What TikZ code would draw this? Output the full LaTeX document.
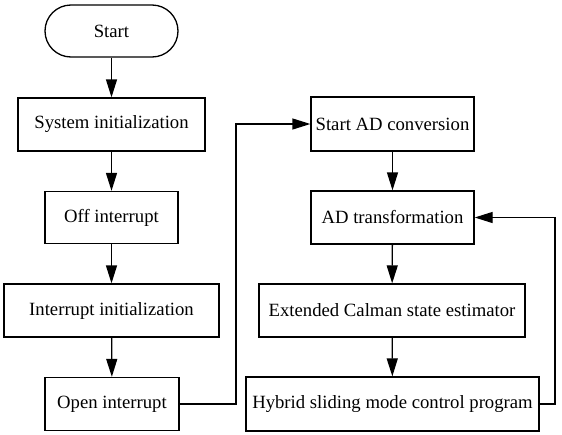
\documentclass[tikz,border=0pt]{standalone}
\usepackage{fontspec}
\setmainfont{Liberation Serif}
\usetikzlibrary{arrows.meta}
\begin{document}
\begin{tikzpicture}[x=1pt,y=-1pt,
  box/.style={draw=black,line width=1.3pt,rectangle,inner sep=0pt,font=\fontsize{18.7}{22}\selectfont},
  term/.style={box,rounded corners=26pt},
  arr/.style={draw=black,line width=1.3pt,-{Triangle[length=18pt,width=11pt]}},
  ln/.style={draw=black,line width=1.3pt}]
\useasboundingbox (0,0) rectangle (562,434);
\node[term,minimum width=133pt,minimum height=52pt] (start) at (111.5,31) {Start};
\node[box,minimum width=187pt,minimum height=53pt] (sys) at (111.5,124.5) {System initialization};
\node[box,minimum width=133pt,minimum height=52pt] (off) at (111.5,217.5) {Off interrupt};
\node[box,minimum width=215pt,minimum height=53pt] (iinit) at (111.5,310.5) {Interrupt initialization};
\node[box,minimum width=134pt,minimum height=53pt] (open) at (112,404) {Open interrupt};
\node[box,minimum width=163pt,minimum height=54pt] (sad) at (392.5,124) {Start AD conversion};
\node[box,minimum width=163pt,minimum height=53pt] (adt) at (392.5,217.5) {AD transformation};
\node[box,minimum width=266pt,minimum height=53pt] (ext) at (392,310.5) {Extended Calman state estimator};
\node[box,minimum width=293pt,minimum height=54pt] (hyb) at (392.5,404) {Hybrid sliding mode control program};
\coordinate (j1) at (236,0);
\coordinate (j2) at (555,0);
\draw[arr] (start) -- (sys);
\draw[arr] (sys) -- (off);
\draw[arr] (off) -- (iinit);
\draw[arr] (iinit) -- (open);
\draw[arr] (sad) -- (adt);
\draw[arr] (adt) -- (ext);
\draw[arr] (ext) -- (hyb);
\draw[arr] (open.east) -- (open.east -| j1) |- (sad.west);
\draw[arr] (hyb.east) -- (hyb.east -| j2) |- (adt.east);
\end{tikzpicture}
\end{document}
